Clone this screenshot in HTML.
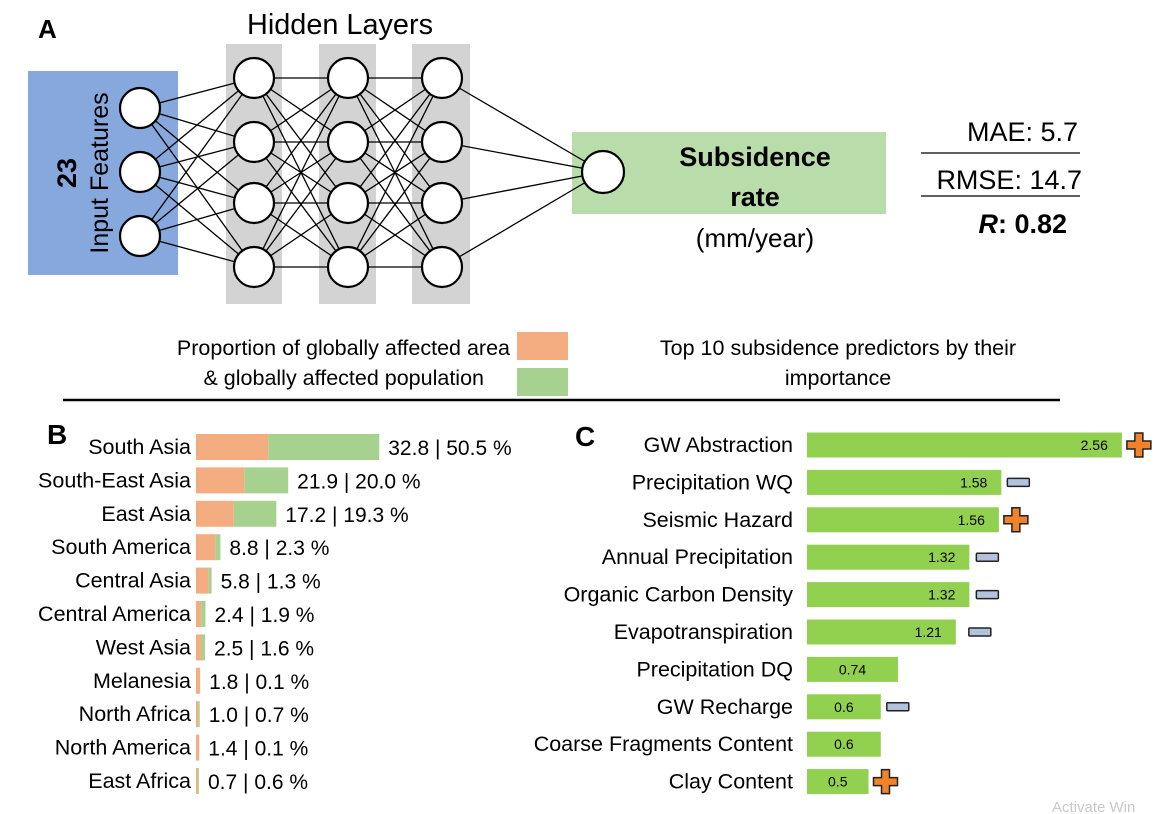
<!DOCTYPE html>
<html><head><meta charset="utf-8"><style>
html,body{margin:0;padding:0;background:#fff}
svg{display:block;font-family:"Liberation Sans",Arial,sans-serif}
</style></head><body>
<svg id="fig" width="1161" height="814" viewBox="0 0 1161 814">
<g id="panelA">
<text x="38" y="38" font-size="26" font-weight="bold">A</text>
<text x="340" y="34" font-size="29" text-anchor="middle" textLength="186" lengthAdjust="spacingAndGlyphs">Hidden Layers</text>
<rect x="28" y="71" width="150" height="204" fill="#86a8dc"/>
<text transform="translate(76,173) rotate(-90)" font-size="27" font-weight="bold" text-anchor="middle">23</text>
<text transform="translate(108,173) rotate(-90)" font-size="25" text-anchor="middle">Input Features</text>
<rect x="226" y="44" width="56" height="260" fill="#d3d3d3"/>
<rect x="319" y="44" width="57" height="260" fill="#d3d3d3"/>
<rect x="412" y="44" width="58" height="260" fill="#d3d3d3"/>
<rect x="572" y="132" width="314" height="82" fill="#b9dcab"/>
<g id="edges" stroke="#000" stroke-width="1.3"></g>
<g id="nodes" fill="#fff" stroke="#000" stroke-width="2.2"></g>
<text x="755" y="166" font-size="27" font-weight="bold" text-anchor="middle">Subsidence</text>
<text x="755" y="206" font-size="27" font-weight="bold" text-anchor="middle">rate</text>
<text x="755" y="247" font-size="26" text-anchor="middle">(mm/year)</text>
<text x="1078" y="141" font-size="27" text-anchor="end">MAE: 5.7</text>
<line x1="921" y1="153" x2="1080" y2="153" stroke="#000" stroke-width="1.3"/>
<text x="1082" y="189" font-size="27" text-anchor="end">RMSE: 14.7</text>
<line x1="921" y1="196" x2="1080" y2="196" stroke="#000" stroke-width="1.3"/>
<text x="1067" y="233" font-size="27" font-weight="bold" text-anchor="end"><tspan font-style="italic">R</tspan>: 0.82</text>
</g>
<g>
<text x="510" y="355" font-size="21.5" text-anchor="end">Proportion of globally affected area</text>
<text x="484" y="385" font-size="21.5" text-anchor="end">&amp; globally affected population</text>
<rect x="517" y="332" width="51" height="28" fill="#f4ad80"/>
<rect x="517" y="368" width="51" height="28" fill="#a6d18f"/>
<text x="838" y="355" font-size="21.5" text-anchor="middle">Top 10 subsidence predictors by their</text>
<text x="838" y="385" font-size="21.5" text-anchor="middle">importance</text>
<line x1="63" y1="400" x2="1060" y2="400" stroke="#000" stroke-width="2.5"/>
</g>
<text x="47" y="444" font-size="28" font-weight="bold">B</text>
<text x="575" y="446" font-size="28" font-weight="bold">C</text>
<g id="chartB"></g>
<g id="chartC"></g>
<text x="1052" y="812" font-size="15" fill="#c8c8c8">Activate Win</text>
</svg>
<script>
const NS="http://www.w3.org/2000/svg";
function mk(tag,attrs,parent,text){const e=document.createElementNS(NS,tag);for(const k in attrs)e.setAttribute(k,attrs[k]);if(text!==undefined)e.textContent=text;parent.appendChild(e);return e;}

// ---- Network diagram ----
const layersX=[140,254,348,442,603];
const layersY=[[108,172,236],[78,142,203,267],[78,142,203,267],[78,142,203,267],[172]];
const edges=document.getElementById('edges'),nodes=document.getElementById('nodes');
for(let l=0;l<layersX.length-1;l++){
  for(const y1 of layersY[l])for(const y2 of layersY[l+1]){
    const ln=mk('line',{x1:layersX[l],y1:y1,x2:layersX[l+1],y2:y2},edges);
    
    
  }
}
layersX.forEach((x,l)=>layersY[l].forEach(y=>{
  const c=mk('circle',{cx:x,cy:y,r:l===4?21:20},nodes);
  
  
}));

// ---- Panel B data ----
const regions=["South Asia","South-East Asia","East Asia","South America","Central Asia","Central America","West Asia","Melanesia","North Africa","North America","East Africa"];
const areaPct=[32.8,21.9,17.2,8.8,5.8,2.4,2.5,1.8,1.0,1.4,0.7];
const popPct=[50.5,20.0,19.3,2.3,1.3,1.9,1.6,0.1,0.7,0.1,0.6];

// ---- Panel C data ----
const predictors=["GW Abstraction","Precipitation WQ","Seismic Hazard","Annual Precipitation","Organic Carbon Density","Evapotranspiration","Precipitation DQ","GW Recharge","Coarse Fragments Content","Clay Content"];
const importance=[2.56,1.58,1.56,1.32,1.32,1.21,0.74,0.6,0.6,0.5];
const effect=["+","-","+","-","-","-","","-","","+"];

const gB=document.getElementById('chartB');
const bX0=196, bScale=2.2;
const xB=v=>bX0+v*bScale;
const yB=i=>447+i*33.4;
regions.forEach((r,i)=>{
  const yc=yB(i),h=26;
  const lab=mk('text',{x:191,y:yc+7,'font-size':21.5,'text-anchor':'end'},gB,r);
  
  
  const a=mk('rect',{x:xB(0),y:yc-h/2,width:xB(areaPct[i])-xB(0),height:h,fill:'#f4ad80'},gB);
  
  
  const p=mk('rect',{x:xB(areaPct[i]),y:yc-h/2,width:xB(areaPct[i]+popPct[i])-xB(areaPct[i]),height:h,fill:'#a6d18f'},gB);
  
  
  const v=mk('text',{x:Math.max(xB(areaPct[i]+popPct[i]),xB(0)+3)+9,y:yc+8,'font-size':21},gB,areaPct[i].toFixed(1)+" | "+popPct[i].toFixed(1)+" %");
  
  
});

const gC=document.getElementById('chartC');
const cX0=807, cScale=123;
const xC=v=>cX0+v*cScale;
const yC=i=>445+i*37.4;
predictors.forEach((p,i)=>{
  const yc=yC(i),h=25,x1=xC(importance[i]);
  const lab=mk('text',{x:793,y:yc+7,'font-size':21.5,'text-anchor':'end'},gC,p);
  
  
  const b=mk('rect',{x:cX0,y:yc-h/2,width:x1-cX0,height:h,fill:'#92d050'},gC);
  
  
  const tx=importance[i]>1?x1-14:(cX0+x1)/2;
  const t=mk('text',{x:tx,y:yc+5,'font-size':14,'text-anchor':importance[i]>1?'end':'middle'},gC,String(importance[i]));
  
  
  if(effect[i]==="+"){
    const cx=x1+17;
    const pl=mk('path',{d:`M${cx-4},${yc-12}h8v8h8v8h-8v8h-8v-8h-8v-8h8z`,fill:'#f0822a',stroke:'#222','stroke-width':1.5},gC);
    
    
  } else if(effect[i]==="-"){
    const cx=x1+(importance[i]>1.3&&importance[i]<1.4?18:importance[i]<1.3&&importance[i]>1?24:17);
    const mn=mk('rect',{x:cx-11,y:yc-4,width:22,height:8,rx:1,fill:'#b4c3dc',stroke:'#222','stroke-width':1.5},gC);
    
    
  }
});
</script>
</body></html>
